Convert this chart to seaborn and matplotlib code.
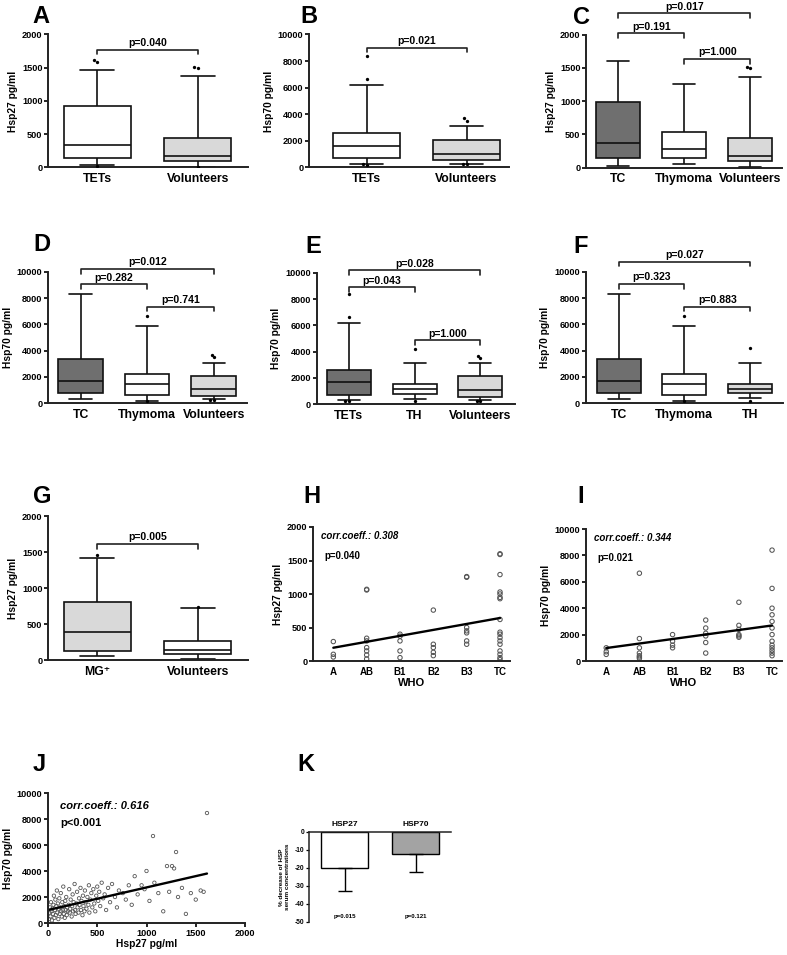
import numpy as np
import pandas as pd
import matplotlib
matplotlib.use("Agg")
import matplotlib.pyplot as plt
import seaborn as sns

# ---- box plots: whisker low, Q1, median, Q3, whisker high ----
tets_27 = [40, 150, 335, 930, 1460]
vol_27 = [15, 100, 175, 450, 1370]
tc_27 = [30, 140, 370, 990, 1600]
thym_27 = [50, 140, 280, 540, 1260]
mg_27 = [50, 120, 390, 810, 1420]
volmg_27 = [20, 90, 140, 270, 720]

tets_70 = [300, 700, 1650, 2600, 6200]
vol_70 = [300, 550, 1050, 2100, 3100]
tc_70 = [300, 750, 1700, 3350, 8300]
thym_70 = [200, 600, 1500, 2250, 5900]
th_70 = [380, 750, 1120, 1500, 3100]

# outliers (dots)
tets_27_out = [1610, 1590, 20]
vol_27_out = [1510, 1500, 5]
mg_27_out = [1460]
volmg_27_out = [730]
tets_70_out = [8400, 6650, 200, 250]
vol_70_out = [3700, 3500, 250, 230]
thym_70_out = [6650, 150]
th_70_out = [4200, 200]

# ---- WHO scatter ----
who = ["A", "AB", "B1", "B2", "B3", "TC"]
hsp27_who = [
    [290, 100, 60],
    [1070, 1060, 340, 300, 200, 150, 90, 30],
    [400, 370, 300, 150, 50],
    [760, 250, 200, 130, 80],
    [1260, 1250, 500, 450, 420, 300, 250],
    [1600, 1590, 1290, 1030, 1000, 950, 930, 620, 430, 400, 350, 300, 250, 150, 100, 50, 20],
]
hsp70_who = [
    [1000, 700, 500],
    [6650, 1700, 1000, 600, 400, 300, 200],
    [2000, 1500, 1200, 1000],
    [3100, 2500, 2100, 1900, 1400, 600],
    [4450, 2700, 2400, 2000, 1900, 1800],
    [8400, 5500, 4000, 3500, 3000, 2500, 2000, 1500, 1200, 1000, 800, 600, 400],
]

# ---- Hsp27 vs Hsp70 ----
j_hsp27 = [10, 15, 20, 25, 30, 35, 40, 45, 50, 55, 60, 65, 70, 75, 80, 85, 90, 95, 100, 105,
           110, 115, 120, 125, 130, 135, 140, 145, 150, 155, 160, 165, 170, 175, 180, 185, 190, 195, 200,
           210, 215, 220, 225, 230, 240, 245, 250, 255, 260, 270, 275, 280, 290, 295, 300, 310, 315,
           320, 330, 335, 340, 350, 355, 360, 370, 375, 380, 390, 400, 410, 415, 420, 430, 440, 450,
           460, 470, 480, 490, 500, 510, 520, 530, 545, 560, 575, 590, 610, 630, 650, 680, 700,
           720, 760, 790, 820, 850, 880, 910, 950, 980, 1000, 1030, 1066, 1080,
           1120, 1170, 1208, 1230, 1259, 1280, 1300, 1320, 1360, 1400, 1450, 1500, 1550, 1580, 1614]
j_hsp70 = [300, 800, 1200, 500, 1600, 900, 200, 1100, 700, 1400, 2100, 400, 1000, 1800, 600, 1300, 2500, 800, 1500, 300,
           1100, 1900, 700, 1200, 2300, 900, 500, 1600, 1000, 2800, 700, 1300, 400, 1700, 1000, 2000, 600, 1200, 900,
           1400, 2600, 800, 1100, 1800, 500, 1300, 2200, 900, 1600, 3000, 1000, 700, 1500, 2400, 1200, 800, 1900,
           1400, 2700, 1000, 1700, 600, 2100, 1300, 900, 2500, 1600, 1100, 2000, 1400, 2900, 800, 1800, 2300, 1200,
           2600, 1500, 900, 2100, 2800, 1700, 2400, 1300, 3100, 1900, 2200, 1000, 2700, 1600, 3000, 2000, 1200,
           2500, 2300, 1800, 2900, 1400, 3600, 2200, 2900, 2600, 4000, 1700, 6690, 3100,
           2300, 900, 4380, 2400, 4380, 4200, 5460, 2000, 2700, 700, 2300, 1800, 2500, 2400, 8460]

# ---- % decrease ----
k_labels = ["HSP27", "HSP70"]
k_mean = [-20, -12]
k_sd = [13, 10]
k_p = ["p=0.015", "p=0.121"]

WHITE, LIGHT, DARK = "white", "#d9d9d9", "#6f6f6f"

sns.set_theme(style="ticks")
plt.rcParams["font.family"] = ["Liberation Sans", "DejaVu Sans"]
plt.rcParams["font.weight"] = "bold"
plt.rcParams["axes.labelweight"] = "bold"
plt.rcParams["axes.unicode_minus"] = False
for key in ("text.color", "axes.labelcolor", "xtick.color", "ytick.color"):
    plt.rcParams[key] = "black"

W, H = 787, 955
fig = plt.figure(figsize=(W / 100, H / 100), dpi=100)

TICK_FS = 6.6
CAT_FS = 8.8
YLAB_FS = 7.4
P_FS = 7.6


def add_ax(l, t, r, b):
    return fig.add_axes([l / W, 1 - b / H, (r - l) / W, (b - t) / H])


def style(ax, ylabel, yticks, fs=TICK_FS):
    sns.despine(ax=ax)
    for s in ("left", "bottom"):
        ax.spines[s].set_linewidth(1.4)
        ax.spines[s].set_color("#222")
    ax.tick_params(axis="y", direction="out", length=3, width=1.2, labelsize=fs, pad=1)
    ax.set_yticks(yticks)
    ax.set_yticklabels([str(v) for v in yticks], fontweight="bold")
    ax.set_ylabel(ylabel, fontsize=YLAB_FS, fontweight="bold", labelpad=3)
    ax.set_ylim(yticks[0], yticks[-1])


def bracket(ax, i, j, h, label, tick):
    ax.plot([i, i, j, j], [h - tick, h, h, h - tick], color="#222", lw=1.2, clip_on=False)
    ax.text((i + j) / 2, h + tick * 0.4, label, ha="center", va="bottom",
            fontsize=P_FS, fontweight="bold", clip_on=False)


def box_panel(rect, xlim, groups, boxes, outs, colors, yticks, ylabel, brackets):
    ax = add_ax(*rect)
    df = pd.DataFrame([(g, v) for g, b in zip(groups, boxes) for v in b], columns=["group", "value"])
    sns.boxplot(data=df, x="group", y="value", hue="group", order=groups, hue_order=groups,
                palette=dict(zip(groups, colors)), whis=(0, 100), width=0.67, saturation=1,
                linecolor="#111", linewidth=1.2, legend=False, ax=ax)
    dout = pd.DataFrame([(g, v) for g, o in zip(groups, outs) for v in o], columns=["group", "value"])
    if len(dout):
        sns.swarmplot(data=dout, x="group", y="value", order=groups, color="black", size=2.4, ax=ax)
    style(ax, ylabel, yticks)
    ax.set_xlim(*xlim)
    ax.set_xlabel("")
    ax.tick_params(axis="x", length=0, labelsize=CAT_FS, pad=4)
    tick = (yticks[-1] - yticks[0]) * 0.035
    for i, j, h, lab in brackets:
        bracket(ax, i, j, h, lab, tick)
    return ax


t27 = [0, 500, 1000, 1500, 2000]
t70 = [0, 2000, 4000, 6000, 8000, 10000]

box_panel((48, 34.5, 248, 167.5), (-0.49, 1.5), ["TETs", "Volunteers"], [tets_27, vol_27],
          [tets_27_out, vol_27_out], [WHITE, LIGHT], t27, "Hsp27 pg/ml", [(0, 1, 1770, "p=0.040")])
box_panel((309, 34.5, 509, 167.5), (-0.575, 1.425), ["TETs", "Volunteers"], [tets_70, vol_70],
          [tets_70_out, vol_70_out], [WHITE, LIGHT], t70, "Hsp70 pg/ml", [(0, 1, 9000, "p=0.021")])
box_panel((586, 34.7, 782, 167.7), (-0.49, 2.48), ["TC", "Thymoma", "Volunteers"], [tc_27, thym_27, vol_27],
          [[], [], vol_27_out[:2]], [DARK, WHITE, LIGHT], t27, "Hsp27 pg/ml",
          [(0, 2, 2320, "p=0.017"), (0, 1, 2020, "p=0.191"), (1, 2, 1630, "p=1.000")])

box_panel((48, 271.7, 247, 403.3), (-0.49, 2.5), ["TC", "Thymoma", "Volunteers"], [tc_70, thym_70, vol_70],
          [[], thym_70_out, vol_70_out], [DARK, WHITE, LIGHT], t70, "Hsp70 pg/ml",
          [(0, 2, 10200, "p=0.012"), (0, 1, 9030, "p=0.282"), (1, 2, 7330, "p=0.741")])
box_panel((316.7, 273, 515, 404), (-0.49, 2.53), ["TETs", "TH", "Volunteers"], [tets_70, th_70, vol_70],
          [tets_70_out, th_70_out, vol_70_out], [DARK, WHITE, LIGHT], t70, "Hsp70 pg/ml",
          [(0, 2, 10200, "p=0.028"), (0, 1, 8900, "p=0.043"), (1, 2, 4850, "p=1.000")])
box_panel((585.7, 271.7, 783, 403.3), (-0.5, 2.5), ["TC", "Thymoma", "TH"], [tc_70, thym_70, th_70],
          [[], thym_70_out, th_70_out], [DARK, WHITE, LIGHT], t70, "Hsp70 pg/ml",
          [(0, 2, 10750, "p=0.027"), (0, 1, 9050, "p=0.323"), (1, 2, 7330, "p=0.883")])

box_panel((48, 516, 248, 660), (-0.49, 1.5), ["MG\u207a", "Volunteers"], [mg_27, volmg_27],
          [mg_27_out, volmg_27_out], [LIGHT, WHITE], t27, "Hsp27 pg/ml", [(0, 1, 1610, "p=0.005")])


def who_panel(rect, values, yticks, ylabel, coef, pval):
    ax = add_ax(*rect)
    x = np.concatenate([[i] * len(v) for i, v in enumerate(values)])
    y = np.concatenate(values)
    sns.regplot(x=x, y=y, ci=None, ax=ax,
                scatter_kws=dict(s=10, facecolors="none", edgecolors="#555", linewidths=0.75, alpha=1),
                line_kws=dict(color="black", lw=1.7))
    style(ax, ylabel, yticks)
    ax.set_xlim(-0.61, 5.3)
    ax.set_xticks(range(len(who)))
    ax.set_xticklabels(who)
    ax.tick_params(axis="x", length=0, labelsize=7, pad=4)
    ax.set_xlabel("WHO", fontsize=8, fontweight="bold", labelpad=1)
    ax.text(0.04, 0.93, f"corr.coeff.: {coef}", transform=ax.transAxes, fontsize=7,
            fontweight="bold", fontstyle="italic", va="center")
    ax.text(0.06, 0.78, pval, transform=ax.transAxes, fontsize=7, fontweight="bold", va="center")


who_panel((313, 527, 510, 661), hsp27_who, t27, "Hsp27 pg/ml", "0.308", "p=0.040")
who_panel((586, 529, 782, 661), hsp70_who, t70, "Hsp70 pg/ml", "0.344", "p=0.021")

# J
ax = add_ax(48, 793, 245, 923)
sns.regplot(x=j_hsp27, y=j_hsp70, ci=None, ax=ax,
            scatter_kws=dict(s=6, facecolors="none", edgecolors="#555", linewidths=0.6, alpha=1),
            line_kws=dict(color="black", lw=1.7))
style(ax, "Hsp70 pg/ml", t70)
ax.set_xlim(0, 2000)
ax.set_xticks([0, 500, 1000, 1500, 2000])
ax.tick_params(axis="x", direction="out", length=3, width=1.2, labelsize=TICK_FS, pad=1)
ax.set_xlabel("Hsp27 pg/ml", fontsize=YLAB_FS, fontweight="bold", labelpad=1)
ax.text(0.06, 0.9, "corr.coeff.: 0.616", transform=ax.transAxes, fontsize=8,
        fontweight="bold", fontstyle="italic", va="center")
ax.text(0.06, 0.77, "p<0.001", transform=ax.transAxes, fontsize=8, fontweight="bold", va="center")

# K
ax = add_ax(309, 832, 451, 922)
sns.barplot(x=k_labels, y=k_mean, hue=k_labels, palette=[WHITE, "#a3a3a3"], edgecolor="black",
            linewidth=1, width=0.67, saturation=1, legend=False, ax=ax)
ax.errorbar(x=range(len(k_labels)), y=k_mean, yerr=[k_sd, [0] * len(k_sd)], fmt="none",
            ecolor="black", elinewidth=1, capsize=5, capthick=1)
ax.set_ylim(-50, 0)
ax.set_xlim(-0.5, 1.5)
for s in ("bottom", "right"):
    ax.spines[s].set_visible(False)
for s in ("top", "left"):
    ax.spines[s].set_linewidth(1.1)
    ax.spines[s].set_color("#222")
ax.xaxis.tick_top()
ax.tick_params(axis="x", length=0, labelsize=6, pad=3)
ax.set_yticks([0, -10, -20, -30, -40, -50])
ax.tick_params(axis="y", direction="out", length=2.5, width=0.9, labelsize=4.8, pad=1)
ax.set_ylabel("% decrease of HSP\nserum concentrations", fontsize=4.6, fontweight="bold", labelpad=3)
for i, p in enumerate(k_p):
    ax.text(i, -47, p, ha="center", va="center", fontsize=4.4, fontweight="bold")

# panel letters
letters = [("A", 32, 5), ("B", 300, 5), ("C", 573, 6), ("D", 33, 233), ("E", 305, 235), ("F", 573, 235),
           ("G", 33, 485), ("H", 303, 485), ("I", 577, 485), ("J", 33, 753), ("K", 297, 753)]
for lab, x, y in letters:
    fig.text(x / W, 1 - y / H, lab, fontsize=17, fontweight="bold", ha="left", va="top")

fig.savefig("out.png", dpi=100)
